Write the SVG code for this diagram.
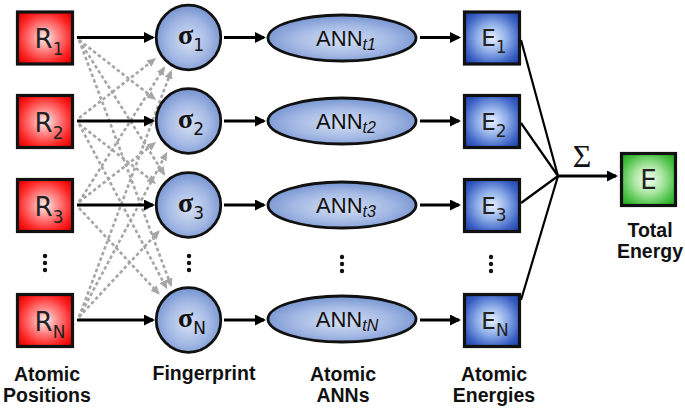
<svg xmlns="http://www.w3.org/2000/svg" width="685" height="413" viewBox="0 0 685 413">
<defs>
<radialGradient id="gRed" cx="50%" cy="50%" r="65%">
<stop offset="0" stop-color="#fff2f2"/><stop offset="0.35" stop-color="#ff8a8a"/><stop offset="0.75" stop-color="#ff2424"/><stop offset="1" stop-color="#e40000"/>
</radialGradient>
<radialGradient id="gBlue" cx="50%" cy="50%" r="65%">
<stop offset="0" stop-color="#eaf1ff"/><stop offset="0.4" stop-color="#93b2ea"/><stop offset="0.8" stop-color="#3a60c4"/><stop offset="1" stop-color="#2446ad"/>
</radialGradient>
<radialGradient id="gGreen" cx="50%" cy="50%" r="65%">
<stop offset="0" stop-color="#f6fff4"/><stop offset="0.4" stop-color="#aee8a6"/><stop offset="0.8" stop-color="#46bf40"/><stop offset="1" stop-color="#2aa82a"/>
</radialGradient>
<radialGradient id="gNode" cx="50%" cy="55%" r="60%">
<stop offset="0" stop-color="#d6e0f4"/><stop offset="0.55" stop-color="#a3b8e4"/><stop offset="1" stop-color="#6a8bcc"/>
</radialGradient>
<marker id="ah" markerWidth="12" markerHeight="12" refX="9" refY="5.5" orient="auto" markerUnits="userSpaceOnUse"><path d="M0,0 L11,5.5 L0,11 z" fill="#000"/></marker>
<marker id="ahg" markerWidth="10" markerHeight="10" refX="7" refY="4" orient="auto" markerUnits="userSpaceOnUse"><path d="M0,0 L9,4 L0,8 z" fill="#a6a6a6"/></marker>
</defs>
<style>
.box{stroke:#111;stroke-width:3.2}
.red{fill:url(#gRed)}
.blue{fill:url(#gBlue)}
.green{fill:url(#gGreen)}
.node{fill:url(#gNode);stroke:#111;stroke-width:2.8}
.arr{stroke:#000;stroke-width:2.8;fill:none;marker-end:url(#ah)}
.sum{stroke:#000;stroke-width:2.2;fill:none}
.dash{stroke:#a6a6a6;stroke-width:2.6;stroke-dasharray:3.5 2.5;fill:none;marker-end:url(#ahg)}
.lbl{font-family:"Liberation Sans",Arial,sans-serif;font-weight:bold;font-size:19.5px;fill:#111;text-anchor:middle}
.rt{font-family:"DejaVu Sans",sans-serif;font-size:26px;fill:#222;text-anchor:middle}
.et{font-family:"DejaVu Sans",sans-serif;font-size:23px;fill:#222;text-anchor:middle}
.st{font-family:"Liberation Serif",serif;font-weight:bold;font-size:28px;fill:#111;text-anchor:middle}
.sub{font-family:"DejaVu Sans",sans-serif;font-weight:normal;font-size:17px}
.at{font-family:"Liberation Sans",Arial,sans-serif;font-size:22px;fill:#111;text-anchor:middle}
.ati{font-style:italic;font-size:16px}
.dot{fill:#111}
</style>
<rect width="685" height="413" fill="#fff"/>

<g id="connectors">
<path class="dash" d="M79,40 L154.5,98.7"/>
<path class="dash" d="M79,40 L164,174"/>
<path class="dash" d="M79,40 L171,285.4"/>
<path class="dash" d="M79,118 L154.5,59.3"/>
<path class="dash" d="M79,124 L154.5,182.7"/>
<path class="dash" d="M79,124 L166.3,287.5"/>
<path class="dash" d="M79,202 L164,68"/>
<path class="dash" d="M79,202 L154.5,143.3"/>
<path class="dash" d="M79,208 L158.4,293.2"/>
<path class="dash" d="M79,317 L171,71.6"/>
<path class="dash" d="M79,317 L166.3,153.5"/>
<path class="dash" d="M79,317 L158.4,231.8"/>
<path class="arr" d="M77,37.5 L153,37.5"/>
<path class="arr" d="M77,121 L153,121"/>
<path class="arr" d="M77,205 L153,205"/>
<path class="arr" d="M77,320 L153,320"/>
<path class="arr" d="M224,37.5 L264,37.5"/>
<path class="arr" d="M224,121 L264,121"/>
<path class="arr" d="M224,205 L264,205"/>
<path class="arr" d="M224,320 L264,320"/>
<path class="arr" d="M420,37.5 L459,37.5"/>
<path class="arr" d="M420,121 L459,121"/>
<path class="arr" d="M420,205 L459,205"/>
<path class="arr" d="M420,320 L459,320"/>
<path class="sum" d="M521,40 L558,176 M521,123 L558,176 M521,203 L558,176 M521,300 L558,176"/>
<path class="arr" d="M557,176 L616,176"/>
</g>

<g id="R1"><rect class="box red" x="17.5" y="12" width="55" height="52"/><text class="rt" x="49" y="48">R<tspan class="sub" font-size="18" dy="7">1</tspan></text></g>
<g id="R2"><rect class="box red" x="17.5" y="95.5" width="55" height="52"/><text class="rt" x="49" y="131.5">R<tspan class="sub" font-size="18" dy="7">2</tspan></text></g>
<g id="R3"><rect class="box red" x="17.5" y="179.5" width="55" height="52"/><text class="rt" x="49" y="215.5">R<tspan class="sub" font-size="18" dy="7">3</tspan></text></g>
<g id="RN"><rect class="box red" x="17.5" y="294.5" width="55" height="52"/><text class="rt" x="50" y="330.5">R<tspan class="sub" font-size="18" dy="7">N</tspan></text></g>

<g id="S1"><circle class="node" cx="188.5" cy="37.5" r="32.3"/><text class="st" x="191" y="44">σ<tspan class="sub" dy="7">1</tspan></text></g>
<g id="S2"><circle class="node" cx="188.5" cy="121" r="32.3"/><text class="st" x="191" y="127.5">σ<tspan class="sub" dy="7">2</tspan></text></g>
<g id="S3"><circle class="node" cx="188.5" cy="205" r="32.3"/><text class="st" x="191" y="211.5">σ<tspan class="sub" dy="7">3</tspan></text></g>
<g id="SN"><circle class="node" cx="188.5" cy="320" r="32.3"/><text class="st" x="192" y="326.5">σ<tspan class="sub" dy="7">N</tspan></text></g>

<g id="ANN1"><ellipse class="node" cx="342" cy="38" rx="74" ry="23"/><text class="at" x="346" y="46">ANN<tspan class="ati" dy="4">t1</tspan></text></g>
<g id="ANN2"><ellipse class="node" cx="342" cy="121" rx="74" ry="23"/><text class="at" x="346" y="129">ANN<tspan class="ati" dy="4">t2</tspan></text></g>
<g id="ANN3"><ellipse class="node" cx="342" cy="205" rx="74" ry="23"/><text class="at" x="346" y="213">ANN<tspan class="ati" dy="4">t3</tspan></text></g>
<g id="ANNN"><ellipse class="node" cx="342" cy="319" rx="74" ry="23"/><text class="at" x="347" y="327">ANN<tspan class="ati" dy="4">tN</tspan></text></g>

<g id="E1"><rect class="box blue" x="464.5" y="12" width="55" height="52"/><text class="et" x="494" y="46">E<tspan class="sub" font-size="16" dy="7">1</tspan></text></g>
<g id="E2"><rect class="box blue" x="464.5" y="95.5" width="55" height="52"/><text class="et" x="494" y="129.5">E<tspan class="sub" font-size="16" dy="7">2</tspan></text></g>
<g id="E3"><rect class="box blue" x="464.5" y="179.5" width="55" height="52"/><text class="et" x="494" y="213.5">E<tspan class="sub" font-size="16" dy="7">3</tspan></text></g>
<g id="EN"><rect class="box blue" x="464.5" y="294.5" width="55" height="52"/><text class="et" x="495" y="328.5">E<tspan class="sub" font-size="16" dy="7">N</tspan></text></g>

<g id="Etotal"><rect class="box green" x="621.5" y="153.5" width="54" height="52"/><text class="rt" x="648.5" y="188.5">E</text></g>
<g id="sigma"><text x="582" y="167" font-family="Liberation Serif,serif" font-size="32" fill="#111" text-anchor="middle">Σ</text></g>

<g id="dots">
<circle class="dot" cx="45" cy="256" r="2.2"/><circle class="dot" cx="45" cy="263" r="2.2"/><circle class="dot" cx="45" cy="270" r="2.2"/>
<circle class="dot" cx="189" cy="256" r="2.2"/><circle class="dot" cx="189" cy="263" r="2.2"/><circle class="dot" cx="189" cy="270" r="2.2"/>
<circle class="dot" cx="342" cy="257" r="2.2"/><circle class="dot" cx="342" cy="264" r="2.2"/><circle class="dot" cx="342" cy="271" r="2.2"/>
<circle class="dot" cx="491" cy="257" r="2.2"/><circle class="dot" cx="491" cy="264" r="2.2"/><circle class="dot" cx="491" cy="271" r="2.2"/>
</g>

<g id="labels">
<text class="lbl" x="47" y="381">Atomic</text><text class="lbl" x="47" y="402">Positions</text>
<text class="lbl" x="204" y="380">Fingerprint</text>
<text class="lbl" x="343" y="381">Atomic</text><text class="lbl" x="343" y="402">ANNs</text>
<text class="lbl" x="494" y="381">Atomic</text><text class="lbl" x="494" y="402">Energies</text>
<text class="lbl" x="650" y="237">Total</text><text class="lbl" x="650" y="258">Energy</text>
</g>
</svg>
